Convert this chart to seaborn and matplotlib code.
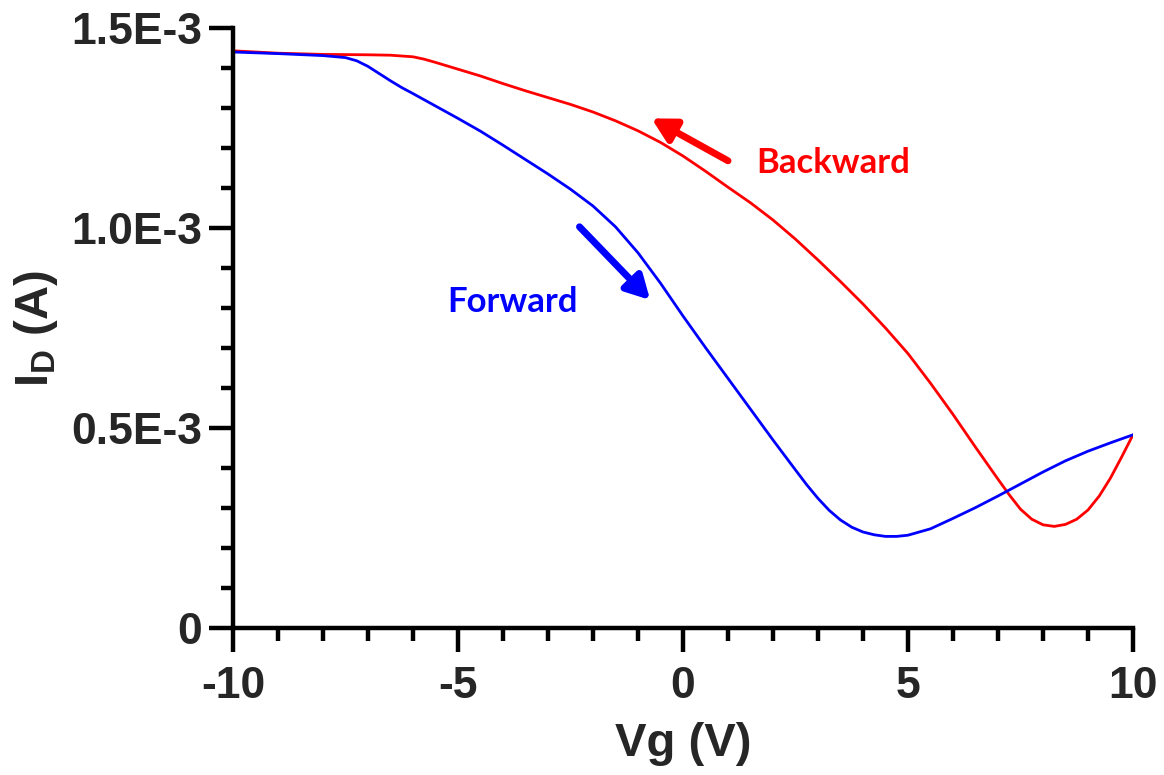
import matplotlib
matplotlib.use("Agg")
import matplotlib.pyplot as plt
from matplotlib.ticker import MultipleLocator
import numpy as np
import pandas as pd
import seaborn as sns

# Transfer curve of the transistor: drain current (mA) vs gate voltage, both sweep directions
vg_forward = [-10, -9, -8, -7.5, -7.25, -7, -6.75, -6.5, -6.25, -6, -5.5, -5, -4.5,
              -4, -3.5, -3, -2.5, -2, -1.5, -1, -0.5, 0, 0.5, 1, 1.5, 2, 2.5, 2.75,
              3, 3.25, 3.5, 3.75, 4, 4.25, 4.5, 4.75, 5, 5.5, 6, 6.5, 7, 7.5, 8,
              8.5, 9, 9.5, 10]
id_forward = [1.440, 1.436, 1.431, 1.426, 1.418, 1.404, 1.386, 1.368, 1.351, 1.336,
              1.305, 1.274, 1.242, 1.207, 1.171, 1.135, 1.097, 1.055, 1.003, 0.938,
              0.862, 0.780, 0.701, 0.624, 0.547, 0.470, 0.395, 0.358, 0.324, 0.294,
              0.270, 0.252, 0.240, 0.233, 0.229, 0.229, 0.232, 0.248, 0.274, 0.301,
              0.330, 0.360, 0.390, 0.418, 0.442, 0.463, 0.483]

vg_backward = [10, 9.75, 9.5, 9.25, 9, 8.75, 8.5, 8.25, 8, 7.75, 7.5, 7.25, 7, 6.5,
               6, 5.5, 5, 4.5, 4, 3.5, 3, 2.5, 2, 1.5, 1, 0.5, 0, -0.5, -1, -1.5,
               -2, -2.5, -3, -3.5, -4, -4.5, -5, -5.5, -5.75, -6, -6.5, -7, -8, -9,
               -10]
id_backward = [0.483, 0.428, 0.375, 0.330, 0.295, 0.272, 0.259, 0.254, 0.258, 0.272,
               0.297, 0.333, 0.372, 0.452, 0.534, 0.612, 0.686, 0.750, 0.810, 0.866,
               0.920, 0.972, 1.020, 1.063, 1.102, 1.142, 1.180, 1.214, 1.243, 1.268,
               1.290, 1.309, 1.326, 1.343, 1.361, 1.380, 1.397, 1.414, 1.422, 1.428,
               1.432, 1.433, 1.434, 1.437, 1.443]

sweep_names = ["Forward", "Backward"]
sweep_colors = {"Forward": "#0000FF", "Backward": "#FF0000"}

y_ticks = [0, 0.5e-3, 1.0e-3, 1.5e-3]
y_tick_labels = ["0", "0.5E-3", "1.0E-3", "1.5E-3"]
x_ticks = [-10, -5, 0, 5, 10]
x_tick_labels = ["-10", "-5", "0", "5", "10"]

df = pd.concat([
    pd.DataFrame({"Vg": vg_forward, "ID": np.array(id_forward) * 1e-3,
                  "sweep": sweep_names[0]}),
    pd.DataFrame({"Vg": vg_backward, "ID": np.array(id_backward) * 1e-3,
                  "sweep": sweep_names[1]}),
], ignore_index=True)

sns.set_style("ticks")
plt.rcParams["font.family"] = ["Liberation Sans", "DejaVu Sans"]
plt.rcParams["mathtext.fontset"] = "custom"
plt.rcParams["mathtext.bf"] = "Liberation Sans:bold"
plt.rcParams["mathtext.rm"] = "Liberation Sans:bold"

fig = plt.figure(figsize=(11.64, 7.75), dpi=100)
ax = fig.add_axes([233 / 1164, 1 - 628 / 775, 900 / 1164, 600 / 775])

sns.lineplot(data=df, x="Vg", y="ID", hue="sweep", palette=sweep_colors,
             hue_order=["Backward", "Forward"], sort=False, estimator=None,
             units="sweep", linewidth=2.0, legend=False, ax=ax)

ax.set_xlim(-10, 10)
ax.set_ylim(0, 1.5e-3)
ax.set_xticks(x_ticks)
ax.set_xticklabels(x_tick_labels)
ax.set_yticks(y_ticks)
ax.set_yticklabels(y_tick_labels)
ax.xaxis.set_minor_locator(MultipleLocator(1))
ax.yaxis.set_minor_locator(MultipleLocator(0.1e-3))

for side in ("top", "right"):
    ax.spines[side].set_visible(False)
for side in ("left", "bottom"):
    ax.spines[side].set_linewidth(3.2)
    ax.spines[side].set_color("black")

ax.tick_params(which="major", length=17, width=3.2, color="black",
               labelsize=32, pad=5)
ax.tick_params(which="minor", length=9, width=3.2, color="black")
ax.tick_params(axis="x", which="major", pad=10)
for lab in ax.get_xticklabels() + ax.get_yticklabels():
    lab.set_fontweight("bold")

ax.set_xlabel("Vg (V)", fontsize=34, fontweight="bold", labelpad=11)
ax.set_ylabel(r"$\mathbf{I_D}$ (A)", fontsize=34, fontweight="bold", labelpad=8)

# sweep direction arrows and labels
ax.annotate("", xy=(-0.70, 1.274e-3), xytext=(1.0, 1.168e-3),
            arrowprops=dict(arrowstyle="-|>,head_length=0.7,head_width=0.38",
                            lw=5, color="#FF0000", mutation_scale=20,
                            shrinkA=0, shrinkB=0))
ax.annotate("", xy=(-0.73, 0.82e-3), xytext=(-2.30, 1.003e-3),
            arrowprops=dict(arrowstyle="-|>,head_length=0.7,head_width=0.38",
                            lw=5, color="#0000FF", mutation_scale=20,
                            shrinkA=0, shrinkB=0))
ax.text(3.33, 1.1625e-3, "Backward", color="#FF0000", fontsize=25,
        fontweight="bold", family=["Lato", "DejaVu Sans"], ha="center", va="center")
ax.text(-3.78, 0.816e-3, "Forward", color="#0000FF", fontsize=25,
        fontweight="bold", family=["Lato", "DejaVu Sans"], ha="center", va="center")

fig.savefig("out.png", dpi=100)
